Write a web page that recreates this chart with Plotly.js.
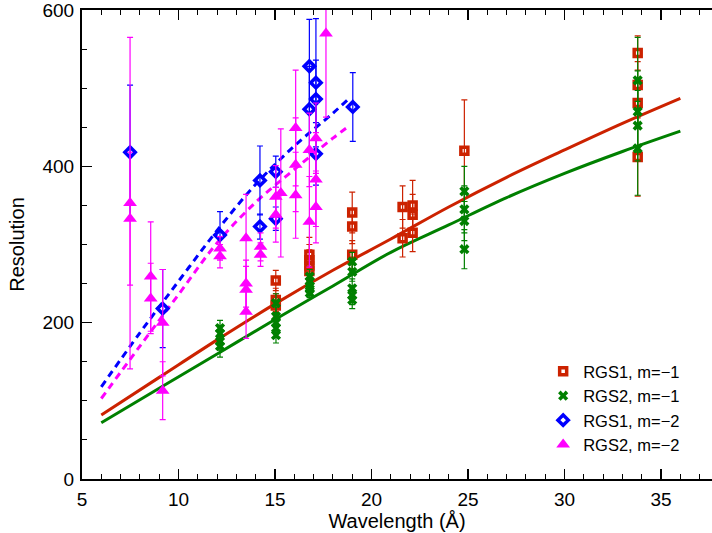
<!DOCTYPE html>
<html>
<head>
<meta charset="utf-8">
<script src="https://cdn.plot.ly/plotly-3.0.1.min.js"></script>
<style>html,body{margin:0;padding:0;background:#fff}#chart{width:712px;height:533px}</style>
</head>
<body>
<div id="chart"></div>
<script>
// ---- Model curves ----
const curveM1X   = [6, 9, 12, 15, 18, 21, 24, 27, 30, 33, 36];
const rgs1M1Curve = [82, 130, 178, 224, 267, 307, 348, 386, 421, 455, 487];
const rgs2M1Curve = [72, 116, 160, 204, 247, 290, 325, 360, 391, 419, 445];
const curveM2X   = [6, 8, 10, 12, 14, 16, 18, 18.8];
const rgs1M2Curve = [118, 187, 253, 318, 377, 426, 468, 486];
const rgs2M2Curve = [103, 170, 236, 302, 354, 396, 436, 451];

// ---- RGS1, m=-1 ----
const rgs1M1X   = [15.04, 15.04, 15.04, 16.78, 16.78, 16.78, 16.78, 19.0, 19.0, 19.0, 21.61, 21.61, 22.13, 22.13, 22.13, 24.81, 33.79, 33.79, 33.79, 33.79];
const rgs1M1Y   = [254, 229, 222, 287, 280, 273, 266, 341, 323, 287, 348, 308, 350, 338, 315, 420, 545, 504, 481, 412];
const rgs1M1Err = [13, 15, 15, 22, 20, 20, 18, 26, 22, 18, 27, 24, 32, 26, 24, 65, 22, 30, 30, 50];

// ---- RGS2, m=-1 ----
const rgs2M1X   = [12.15, 12.15, 12.15, 12.15, 15.05, 15.05, 15.05, 15.05, 15.05, 16.8, 16.8, 16.8, 16.8, 16.8, 19.0, 19.0, 19.0, 19.0, 19.0, 24.81, 24.81, 24.81, 24.81, 33.79, 33.79, 33.79, 33.79];
const rgs2M1Y   = [193, 186, 176, 170, 225, 208, 200, 193, 184, 259, 253, 247, 243, 238, 278, 265, 244, 235, 229, 368, 345, 330, 294, 510, 470, 452, 423];
const rgs2M1Err = [10, 10, 11, 14, 12, 12, 12, 12, 10, 9, 9, 9, 9, 6, 12, 12, 12, 12, 11, 32, 30, 25, 25, 55, 52, 45, 60];

// ---- RGS1, m=-2 ----
const rgs1M2X   = [7.49, 9.18, 12.15, 14.22, 14.22, 15.04, 15.04, 16.78, 16.78, 17.12, 17.12, 17.12, 19.03];
const rgs1M2Y   = [418, 218, 312, 382, 323, 393, 333, 528, 473, 507, 486, 416, 476];
const rgs1M2Err = [86, 50, 30, 44, 16, 20, 15, 60, 55, 82, 50, 40, 44];

// ---- RGS2, m=-2 ----
const rgs2M2X   = [7.49, 7.49, 8.56, 8.56, 9.18, 9.18, 12.15, 12.15, 13.5, 13.5, 13.5, 13.5, 14.25, 14.25, 15.04, 15.04, 15.3, 16.07, 16.07, 16.07, 16.78, 16.78, 17.12, 17.12, 17.12, 17.64];
const rgs2M2Y   = [353, 333, 259, 231, 200, 113, 295, 285, 308, 250, 242, 214, 297, 287, 361, 338, 366, 449, 402, 363, 421, 329, 436, 383, 348, 570];
const rgs2M2Err = [212, 85, 70, 45, 68, 37, 15, 15, 56, 30, 30, 34, 18, 15, 40, 35, 82, 74, 60, 55, 47, 58, 45, 60, 46, 107];

const red = '#cc2200', green = '#008000', blue = '#0000ff', mag = '#ff00ff';

function pts(x, y, err, name, color, symbol, size, lw) {
  return {
    type: 'scatter', mode: 'markers', name: name, x: x, y: y,
    marker: {color: color, symbol: symbol, size: size, line: {color: color, width: lw}},
    error_y: {type: 'data', array: err, visible: true, color: color, thickness: 1.2, width: 3},
    cliponaxis: true
  };
}
function curve(x, y, color, dash) {
  return {type: 'scatter', mode: 'lines', x: x, y: y, showlegend: false, hoverinfo: 'skip',
    line: {color: color, width: 3, dash: dash, shape: 'spline'}};
}

const traces = [
  curve(curveM1X, rgs1M1Curve, red, 'solid'),
  curve(curveM1X, rgs2M1Curve, green, 'solid'),
  curve(curveM2X, rgs1M2Curve, blue, '7px,5px'),
  curve(curveM2X, rgs2M2Curve, mag, '7px,5px'),
  pts(rgs1M1X, rgs1M1Y, rgs1M1Err, 'RGS1, m=\u22121', red, 'square-open', 7, 3.5),
  pts(rgs2M1X, rgs2M1Y, rgs2M1Err, 'RGS2, m=\u22121', green, 'x', 9, 0),
  pts(rgs1M2X, rgs1M2Y, rgs1M2Err, 'RGS1, m=\u22122', blue, 'diamond-open', 8, 3.5),
  pts(rgs2M2X, rgs2M2Y, rgs2M2Err, 'RGS2, m=\u22122', mag, 'triangle-up', 12, 0)
];

const tickFont = {family: '"Liberation Sans", Arial, sans-serif', size: 19, color: '#000'};
const titleFont = {family: '"Liberation Sans", Arial, sans-serif', size: 20, color: '#000'};
const layout = {
  width: 712, height: 533,
  margin: {l: 82, r: 0, t: 10, b: 54},
  paper_bgcolor: '#fff', plot_bgcolor: '#fff',
  font: tickFont,
  showlegend: true,
  legend: {x: 0.732, y: 0.2665, xanchor: 'left', yanchor: 'top', bgcolor: 'rgba(0,0,0,0)',
    font: {family: '"Liberation Sans", Arial, sans-serif', size: 16.5, color: '#000'}, itemwidth: 30, tracegroupgap: 0},
  xaxis: {
    range: [5, 37.64], showgrid: false, zeroline: false,
    showline: true, linecolor: '#000', linewidth: 2, mirror: 'ticks',
    ticks: 'inside', ticklen: 10, tickwidth: 1.5, tickcolor: '#000',
    tick0: 5, dtick: 5, ticklabelstandoff: 2, ticklabeloverflow: 'allow',
    minor: {dtick: 1, ticks: 'inside', ticklen: 5, tickwidth: 1, tickcolor: '#000', showgrid: false},
    title: {text: 'Wavelength (\u00c5)', font: titleFont, standoff: 2},
    tickfont: tickFont
  },
  yaxis: {
    range: [0, 600], showgrid: false, zeroline: false, automargin: true,
    showline: true, linecolor: '#000', linewidth: 2, mirror: false,
    ticks: 'inside', ticklen: 10, tickwidth: 1.5, tickcolor: '#000',
    tick0: 0, dtick: 200, ticklabelstandoff: 2, ticklabeloverflow: 'allow',
    minor: {dtick: 50, ticks: 'inside', ticklen: 5, tickwidth: 1, tickcolor: '#000', showgrid: false},
    title: {text: 'Resolution', font: titleFont, standoff: 12},
    tickfont: tickFont
  }
};

Plotly.newPlot('chart', traces, layout, {displayModeBar: false, staticPlot: true});
</script>
</body>
</html>
